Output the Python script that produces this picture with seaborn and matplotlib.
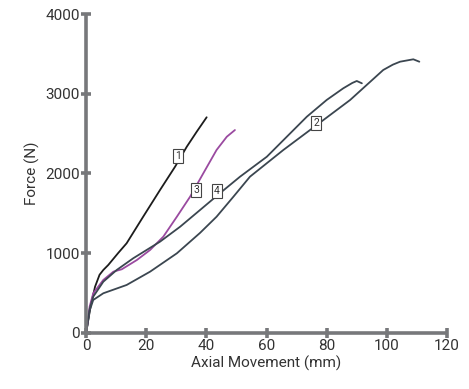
import matplotlib
matplotlib.use("Agg")
import matplotlib.pyplot as plt
import seaborn as sns
import pandas as pd

# ---- data ----
c1_x = [0, 0.2, 1.5, 3.0, 4.5, 5.75, 7.4, 10.7, 13.5, 19.0, 24.6, 29.6, 33.5, 36.8, 40.1]
c1_y = [0, 38, 330, 580, 730, 790, 853, 1003, 1125, 1458, 1793, 2085, 2336, 2524, 2705]

c2_x = [0, 0.2, 1.2, 2.4, 5.75, 13.5, 21.3, 30.2, 37.9, 43.4, 49.0, 54.5, 65.6, 76.7, 87.8, 93.3, 98.8, 102.0, 104.4, 108.8, 110.8]
c2_y = [0, 38, 280, 414, 498, 602, 769, 999, 1255, 1458, 1709, 1960, 2295, 2608, 2922, 3110, 3298, 3365, 3402, 3432, 3402]

c3_x = [0, 0.2, 1.2, 2.4, 5.75, 9.1, 11.9, 16.9, 21.3, 25.7, 30.2, 34.6, 39.0, 43.4, 46.8, 49.5]
c3_y = [0, 38, 330, 498, 665, 769, 799, 915, 1041, 1208, 1458, 1709, 2003, 2295, 2461, 2545]

c4_x = [0, 0.2, 1.2, 2.4, 5.75, 10.2, 15.7, 24.6, 31.3, 37.9, 44.5, 51.2, 60.1, 73.4, 80.0, 85.5, 88.5, 90.0, 91.7]
c4_y = [0, 38, 300, 455, 643, 790, 937, 1145, 1333, 1542, 1752, 1960, 2210, 2712, 2922, 3068, 3135, 3160, 3131]

labels = ["1", "2", "3", "4"]
label_x = [30.6, 76.5, 36.6, 43.6]
label_y = [2220, 2633, 1793, 1780]

xticks = [0, 20, 40, 60, 80, 100, 120]
yticks = [0, 1000, 2000, 3000, 4000]

colors = {"1": "#1c1c1c", "2": "#3b4650", "3": "#9a4aa0", "4": "#3b4650"}

frames = []
for name, xs, ys in [("1", c1_x, c1_y), ("2", c2_x, c2_y), ("3", c3_x, c3_y), ("4", c4_x, c4_y)]:
    frames.append(pd.DataFrame({"x": xs, "y": ys, "curve": name}))
df = pd.concat(frames, ignore_index=True)

sns.set_theme(style="white")
plt.rcParams["font.family"] = ["Roboto", "DejaVu Sans"]

fig = plt.figure(figsize=(4.69, 3.89), dpi=100)
ax = fig.add_axes([0.1834, 0.144, 0.7697, 0.820])

for name in labels:
    sub = df[df["curve"] == name]
    sns.lineplot(data=sub, x="x", y="y", sort=False, color=colors[name],
                 linewidth=1.3, ax=ax, legend=False)

for t, lx, ly in zip(labels, label_x, label_y):
    ax.text(lx, ly, t, ha="center", va="center", fontsize=7.5, color="#333333",
            bbox=dict(boxstyle="square,pad=0.2", fc="white", ec="#444444", lw=0.8), zorder=5)

ax.set_xlim(0, 120)
ax.set_ylim(0, 4000)
ax.set_xticks(xticks)
ax.set_yticks(yticks)
ax.set_xlabel("Axial Movement (mm)", fontsize=11, color="#333333", labelpad=2)
ax.set_ylabel("Force (N)", fontsize=11, color="#333333", labelpad=4)

for s in ["top", "right"]:
    ax.spines[s].set_visible(False)
for s in ["left", "bottom"]:
    ax.spines[s].set_color("#77787b")
    ax.spines[s].set_linewidth(2.6)
    ax.spines[s].set_capstyle("butt")
ax.tick_params(axis="both", which="major", bottom=True, left=True, direction="inout",
               length=7, width=2.6, color="#77787b",
               labelsize=11, labelcolor="#333333", pad=1)

fig.savefig("out.png", dpi=100)
